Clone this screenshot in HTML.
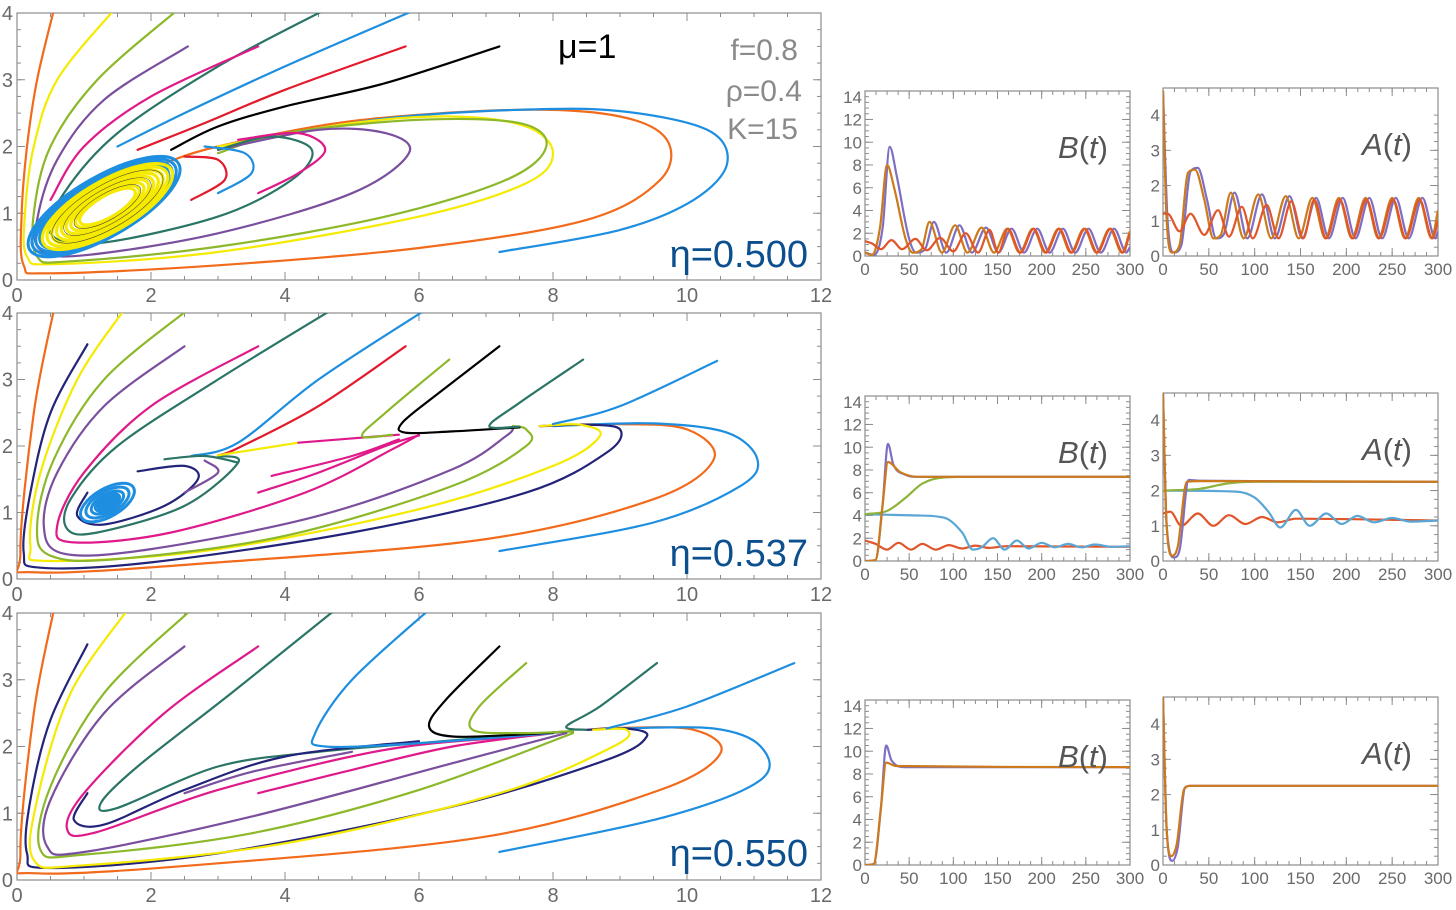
<!DOCTYPE html>
<html><head><meta charset="utf-8">
<style>
html,body{margin:0;padding:0;background:#fff;}
svg{display:block;font-family:"Liberation Sans",sans-serif;}
</style></head>
<body>
<svg id="fig" width="1456" height="910" viewBox="0 0 1456 910" xmlns="http://www.w3.org/2000/svg">
<g id="layer"></g>
<text x="558" y="58" font-size="34" fill="#000">μ=1</text>
<text x="798" y="60" font-size="30" fill="#8a8a8a" text-anchor="end">f=0.8</text>
<text x="802" y="101" font-size="30" fill="#8a8a8a" text-anchor="end">ρ=0.4</text>
<text x="798" y="139" font-size="30" fill="#8a8a8a" text-anchor="end">K=15</text>
<text x="808" y="267" font-size="38" fill="#0b4f8f" text-anchor="end">η=0.500</text>
<text x="808" y="566" font-size="38" fill="#0b4f8f" text-anchor="end">η=0.537</text>
<text x="808" y="866" font-size="38" fill="#0b4f8f" text-anchor="end">η=0.550</text>
</svg>
<script>
// ---------- data ----------
const phaseXTicks = [0,2,4,6,8,10,12];
const phaseYTicks = [0,1,2,3,4];
const bTicks = [0,2,4,6,8,10,12,14];
const aTicks = [0,1,2,3,4];
const tTicks = [0,50,100,150,200,250,300];

const C = {orange:'#f26a1b', blue:'#1e8fe0', yellow:'#f5ea00', olive:'#8cb82a', purple:'#7a4f9e', pink:'#e0198a', teal:'#2a7566', red:'#e3192c', black:'#000', navy:'#23237a'};

// Panel 1 (eta=0.500) trajectories [x,y]
const p1 = [
 ['orange',[[0.55,4.05],[0.3,3],[0.15,2],[0.07,1],[0.1,0.22],[0.5,0.1],[3,0.22],[6,0.48],[8.5,0.9],[9.6,1.5],[9.7,2.1],[9,2.45],[7.5,2.55],[5,2.38],[3,2.0],[2.2,1.75]]],
 ['blue',[[7.2,0.42],[9,0.75],[10.1,1.2],[10.6,1.75],[10.3,2.25],[9,2.53],[7.5,2.55],[5.5,2.42],[3.5,2.1]]],
 ['yellow',[[1.45,4.05],[0.6,3],[0.25,2],[0.12,1],[0.15,0.35],[0.6,0.24],[3,0.42],[6,0.95],[7.6,1.45],[8,1.9],[7.6,2.3],[6.5,2.45],[5,2.35],[3,2.0]]],
 ['olive',[[2.4,4.05],[1.2,3],[0.5,2],[0.25,1],[0.3,0.35],[0.8,0.28],[3,0.5],[5.5,0.95],[7.3,1.5],[7.9,2],[7.5,2.35],[6,2.4],[4,2.2],[3,1.9]]],
 ['purple',[[2.55,3.5],[1.3,2.7],[0.6,1.8],[0.3,0.9],[0.35,0.45],[1,0.37],[3,0.7],[5,1.3],[5.85,1.9],[5.5,2.2],[4.5,2.25],[3,1.95]]],
 ['teal',[[4.6,4.05],[3,3.2],[1.5,2.2],[0.7,1.3],[0.5,0.7],[1.2,0.55],[3,0.95],[4.1,1.5],[4.4,1.95],[3.8,2.15],[3,1.95]]],
 ['pink',[[3.6,3.5],[2,2.75],[1,2],[0.5,1.2]]],
 ['pink',[[3.6,1.3],[4.2,1.6],[4.6,1.95],[4.2,2.2],[3.3,2.1]]],
 ['blue',[[5.95,4.05],[4,3.2],[2.5,2.5],[1.5,2.0]]],
 ['red',[[5.8,3.5],[4,2.85],[2.8,2.35],[1.8,1.95]]],
 ['black',[[7.2,3.5],[5.5,2.95],[4,2.6],[3,2.3],[2.3,1.95]]],
 ['blue',[[3.0,1.3],[3.5,1.6],[3.4,1.9],[2.8,2.0]]],
 ['red',[[2.6,1.2],[3.1,1.5],[3.0,1.8],[2.5,1.85]]]
];
const cycleCenter = [1.3,1.1];
const cycleBlueScales = [1.0,0.95,0.9,0.85];
const cycleYellowScales = [0.82,0.76,0.7,0.64,0.58,0.52,0.46,0.4,0.35];

// Panel 2 (eta=0.537)
const p2 = [
 ['orange',[[0.55,4.05],[0.25,2.5],[0.05,0.4],[0.3,0.1],[3,0.25],[7,0.6],[9.5,1.2],[10.4,1.8],[10,2.25],[9,2.33],[7.8,2.3]]],
 ['blue',[[7.2,0.42],[9.5,0.85],[10.8,1.4],[11.05,1.8],[10.6,2.2],[9.5,2.34],[8,2.3]]],
 ['navy',[[1.05,3.53],[0.5,2.5],[0.2,1.3],[0.1,0.4],[0.35,0.17],[2,0.25],[5,0.7],[7.6,1.3],[8.8,1.9],[9,2.25],[8.5,2.32],[7.8,2.3]]],
 ['yellow',[[1.6,4.05],[0.9,3],[0.35,1.6],[0.2,0.5],[0.5,0.27],[3,0.45],[6,1.05],[8,1.7],[8.7,2.15],[8.4,2.32],[7.8,2.3]]],
 ['olive',[[2.55,4.05],[1.3,3],[0.55,1.8],[0.3,0.8],[0.5,0.35],[1.5,0.3],[4,0.65],[6.5,1.4],[7.6,2.0],[7.6,2.25],[7.4,2.3]]],
 ['purple',[[2.5,3.5],[1.3,2.6],[0.6,1.6],[0.4,0.8],[0.7,0.38],[2,0.45],[4.5,0.95],[6.5,1.65],[7.3,2.15],[7.4,2.28]]],
 ['pink',[[3.6,3.5],[2,2.6],[1,1.6],[0.6,0.8],[0.85,0.55],[2.3,0.7],[4.3,1.3],[5.6,1.95],[6,2.17]]],
 ['teal',[[4.7,4.05],[3,3],[1.5,2],[0.8,1.2],[0.75,0.75],[1.2,0.7],[2.5,1.1],[3.3,1.75],[3.0,1.85]]],
 ['blue',[[6.1,4.05],[4.5,3],[3.3,2.05],[2.6,1.85]]],
 ['red',[[5.8,3.5],[4.5,2.6],[3.3,1.97],[3.0,1.86]]],
 ['yellow',[[3.0,1.86],[4.2,2.05]]],
 ['pink',[[4.2,2.05],[5.7,2.17]]],
 ['black',[[7.2,3.5],[6.3,2.8],[5.75,2.35],[5.8,2.2],[6.5,2.22],[7.5,2.28]]],
 ['olive',[[6.45,3.3],[5.5,2.5],[5.15,2.15],[5.6,2.17]]],
 ['teal',[[8.45,3.3],[7.5,2.65],[7.05,2.3],[7.5,2.29]]],
 ['blue',[[10.45,3.28],[9,2.6],[8,2.33]]],
 ['pink',[[3.6,1.3],[4.5,1.6],[5.5,2.0],[6,2.16]]],
 ['pink',[[3.8,1.55],[5,1.85],[5.7,2.1]]],
 ['navy',[[1.05,1.3],[0.9,0.95],[1.3,0.82],[2.2,1.1],[2.7,1.5],[2.5,1.7],[1.8,1.62]]],
 ['purple',[[2.5,1.3],[3.0,1.6],[2.8,1.78]]],
 ['teal',[[3.3,1.75],[2.8,1.85],[2.2,1.8]]]
];
const spiral2Center = [1.35,1.15];
const spiral2Scales = [1.0,0.8,0.6,0.45];

// Panel 3 (eta=0.550)
const p3 = [
 ['orange',[[0.55,4.05],[0.25,2.5],[0.05,0.4],[0.3,0.1],[3,0.25],[7,0.65],[9.6,1.35],[10.5,1.9],[10.1,2.25],[9,2.28],[8.5,2.25]]],
 ['blue',[[7.2,0.42],[9.7,0.95],[11.1,1.5],[11.1,2.0],[10.4,2.27],[9,2.27]]],
 ['navy',[[1.05,3.53],[0.5,2.4],[0.2,1.2],[0.15,0.4],[0.5,0.18],[3,0.4],[6.5,1.1],[8.8,1.8],[9.4,2.15],[9.1,2.27],[8.5,2.25]]],
 ['yellow',[[1.65,4.05],[0.8,2.8],[0.3,1.2],[0.25,0.3],[1,0.22],[4,0.55],[7.2,1.3],[8.9,2.0],[9.1,2.25],[8.6,2.25]]],
 ['olive',[[2.6,4.05],[1.3,2.8],[0.5,1.4],[0.35,0.45],[1,0.38],[3.5,0.7],[6,1.35],[8.3,2.2]]],
 ['purple',[[2.5,3.5],[1.3,2.5],[0.5,1.2],[0.45,0.5],[1,0.42],[3.5,0.95],[6.5,1.75],[8.2,2.2]]],
 ['pink',[[3.6,3.5],[2.2,2.5],[1,1.3],[0.75,0.75],[1.2,0.72],[3,1.35],[5.5,1.95],[7.5,2.15]]],
 ['teal',[[4.75,4.05],[3.2,2.8],[1.8,1.7],[1.25,1.15],[1.5,1.08],[3,1.7],[4.5,1.92],[6,2.05],[7.8,2.2]]],
 ['navy',[[1.05,1.3],[0.85,0.9],[1.3,0.83],[2.5,1.35],[4,1.85],[6,2.08]]],
 ['pink',[[3.6,1.3],[5,1.65],[6.5,2.0],[8,2.2]]],
 ['purple',[[2.5,1.3],[3.5,1.62],[5,1.92]]],
 ['blue',[[6.15,4.05],[5,3],[4.45,2.2],[4.6,2.0],[6,2.05],[8,2.2]]],
 ['black',[[7.2,3.5],[6.4,2.7],[6.15,2.3],[6.5,2.15],[7.5,2.18],[8.3,2.23]]],
 ['olive',[[7.6,3.25],[6.9,2.6],[6.8,2.25],[7.5,2.2],[8.3,2.23]]],
 ['teal',[[9.55,3.25],[8.7,2.6],[8.2,2.3],[8.5,2.25]]],
 ['blue',[[11.6,3.25],[10,2.6],[8.8,2.27]]]
];

// Time series [t,value]
const TS = {
 purple:'#7f6fc4', orange:'#cc7a1c', red:'#e0562a', green:'#8db33a', lblue:'#5ba6d5'
};
const b1Purple=[[0,0.3],[10,0.1],[20,2.5],[28,9.6],[36,7],[50,1.5],[58,0.3],[68,0.6],[78,3],[92,0.3],[107,2.7],[121,0.3],[137,2.5],[151,0.3],[166,2.4],[180,0.3],[195,2.4],[209,0.3],[224,2.4],[238,0.3],[253,2.4],[267,0.3],[282,2.4],[296,0.3],[300,0.8]];
const b1Orange=[[0,0.3],[8,0.1],[17,2.5],[25,8],[33,6],[46,1.5],[54,0.3],[64,0.6],[73,3],[87,0.3],[102,2.7],[116,0.3],[132,2.5],[146,0.3],[161,2.4],[175,0.3],[190,2.4],[204,0.3],[219,2.4],[233,0.3],[248,2.4],[262,0.3],[277,2.4],[291,0.3],[300,2.2]];
const b1Red=[[0,1.3],[8,1.1],[18,0.6],[30,1.4],[42,0.6],[57,1.5],[70,0.5],[85,1.6],[100,0.4],[114,2.0],[128,0.3],[141,2.3],[151,0.3],[162,2.4],[176,0.3],[191,2.4],[205,0.3],[220,2.4],[234,0.3],[249,2.4],[263,0.3],[278,2.4],[292,0.3],[300,2.0]];
const a1Purple=[[0,4.7],[5,1],[12,0.1],[20,0.3],[30,2.4],[38,2.5],[48,1.6],[58,0.5],[66,0.6],[78,1.8],[92,0.5],[108,1.75],[122,0.5],[138,1.7],[152,0.5],[167,1.65],[181,0.5],[196,1.65],[210,0.5],[225,1.65],[239,0.5],[254,1.65],[268,0.5],[283,1.65],[297,0.5],[300,0.7]];
const a1Orange=[[0,4.7],[4,1],[10,0.1],[18,0.3],[27,2.35],[35,2.45],[45,1.6],[55,0.5],[63,0.6],[74,1.8],[88,0.5],[104,1.75],[118,0.5],[134,1.7],[148,0.5],[163,1.65],[177,0.5],[192,1.65],[206,0.5],[221,1.65],[235,0.5],[250,1.65],[264,0.5],[279,1.65],[293,0.5],[300,1.3]];
const a1Red=[[0,1.2],[5,1.2],[18,0.7],[30,1.2],[45,0.6],[60,1.3],[72,0.55],[86,1.4],[98,0.5],[113,1.45],[126,0.5],[140,1.55],[153,0.5],[165,1.6],[178,0.5],[193,1.6],[207,0.5],[222,1.6],[236,0.5],[251,1.6],[265,0.5],[280,1.6],[294,0.5],[300,1.0]];
const b2Purple=[[0,0],[12,0.1],[20,5],[26,10.3],[32,8.5],[45,7.6],[60,7.4],[300,7.4]];
const b2Orange=[[0,0],[12,0.1],[20,5],[26,8.7],[40,7.8],[60,7.4],[300,7.4]];
const b2Green=[[0,4.1],[25,4.4],[45,5.5],[65,6.8],[90,7.35],[120,7.4],[300,7.4]];
const b2Blue=[[0,4.1],[60,4.0],[90,3.8],[110,2.5],[122,1],[132,1.2],[145,2],[158,1],[172,1.8],[185,1.1],[200,1.6],[215,1.2],[230,1.5],[245,1.2],[260,1.45],[280,1.25],[300,1.3]];
const b2Red=[[0,1.8],[12,1.5],[25,1.0],[38,1.6],[52,1.0],[65,1.5],[80,1.0],[95,1.4],[110,1.1],[125,1.35],[140,1.15],[160,1.3],[300,1.25]];
const a2Purple=[[0,4.8],[4,1.0],[12,0.1],[18,0.3],[28,2.3],[40,2.28],[300,2.25]];
const a2Orange=[[0,4.8],[4,1.0],[10,0.15],[16,0.4],[26,2.25],[40,2.27],[300,2.25]];
const a2Green=[[0,2.0],[40,2.05],[70,2.2],[100,2.25],[300,2.25]];
const a2Blue=[[0,2.0],[80,1.97],[100,1.8],[115,1.4],[128,0.95],[145,1.45],[160,1.0],[178,1.35],[195,1.05],[212,1.28],[230,1.1],[250,1.22],[270,1.12],[300,1.15]];
const a2Red=[[0,1.35],[8,1.4],[20,1.0],[38,1.35],[55,1.0],[72,1.3],[90,1.05],[108,1.25],[125,1.1],[145,1.2],[300,1.15]];
const b3Purple=[[0,0],[10,0.1],[18,5],[24,10.5],[30,9.2],[45,8.6],[300,8.6]];
const b3Orange=[[0,0],[10,0.1],[18,5],[24,9],[35,8.7],[300,8.6]];
const a3Purple=[[0,4.8],[4,1],[10,0.12],[16,0.5],[24,2.2],[30,2.25],[300,2.25]];
const a3Orange=[[0,4.8],[4,1],[9,0.25],[15,0.6],[23,2.15],[30,2.25],[300,2.25]];

// ---------- drawing ----------
const NS='http://www.w3.org/2000/svg';
const layer=document.getElementById('layer');
function el(tag,attrs,parent){const e=document.createElementNS(NS,tag);for(const k in attrs)e.setAttribute(k,attrs[k]);(parent||layer).appendChild(e);return e;}
function smooth(pts){
  if(pts.length<2)return '';
  let d='M'+pts[0][0].toFixed(1)+','+pts[0][1].toFixed(1);
  for(let i=0;i<pts.length-1;i++){
    const p0=pts[i-1]||pts[i],p1=pts[i],p2=pts[i+1],p3=pts[i+2]||p2;
    const c1=[p1[0]+(p2[0]-p0[0])/6,p1[1]+(p2[1]-p0[1])/6];
    const c2=[p2[0]-(p3[0]-p1[0])/6,p2[1]-(p3[1]-p1[1])/6];
    d+=' C'+c1[0].toFixed(1)+','+c1[1].toFixed(1)+' '+c2[0].toFixed(1)+','+c2[1].toFixed(1)+' '+p2[0].toFixed(1)+','+p2[1].toFixed(1);
  }
  return d;
}
// monotone cubic (Fritsch-Carlson) for x-monotone series
function monotone(pts){
  const n=pts.length;if(n<2)return '';
  const dx=[],m=[],t=new Array(n);
  for(let i=0;i<n-1;i++){dx[i]=pts[i+1][0]-pts[i][0];m[i]=(pts[i+1][1]-pts[i][1])/dx[i];}
  t[0]=m[0];t[n-1]=m[n-2];
  for(let i=1;i<n-1;i++){t[i]=(m[i-1]*m[i]<=0)?0:(m[i-1]+m[i])/2;}
  for(let i=0;i<n-1;i++){
    if(m[i]===0){t[i]=0;t[i+1]=0;continue;}
    const a=t[i]/m[i],b=t[i+1]/m[i],s=a*a+b*b;
    if(s>9){const k=3/Math.sqrt(s);t[i]=k*a*m[i];t[i+1]=k*b*m[i];}
  }
  let d='M'+pts[0][0].toFixed(1)+','+pts[0][1].toFixed(1);
  for(let i=0;i<n-1;i++){
    const h=dx[i]/3;
    d+=' C'+(pts[i][0]+h).toFixed(1)+','+(pts[i][1]+t[i]*h).toFixed(1)+' '+(pts[i+1][0]-h).toFixed(1)+','+(pts[i+1][1]-t[i+1]*h).toFixed(1)+' '+pts[i+1][0].toFixed(1)+','+pts[i+1][1].toFixed(1);
  }
  return d;
}
function frame(name,x0,x1,yTop,yBot,xs,ys,xTicks,yTicks,fs,labelGap){
  const g=el('g',{});
  
  
  const clip=el('clipPath',{id:name+'-clip'},g);
  el('rect',{x:x0,y:yTop,width:x1-x0,height:yBot-yTop},clip);
  const r=el('rect',{x:x0,y:yTop,width:x1-x0,height:yBot-yTop,fill:'none',stroke:'#8c8c8c','stroke-width':1.2},g);
  
  
  const xt=xTicks, yt=yTicks;
  for(let i=0;i<xt.length-1;i++){
    for(let k=0;k<=4;k++){
      const v=xt[i]+(xt[i+1]-xt[i])*k/4;const X=xs(v);const L=k===0?8:4;
      el('line',{x1:X,y1:yBot,x2:X,y2:yBot-L,stroke:'#8c8c8c','stroke-width':1},g);
      el('line',{x1:X,y1:yTop,x2:X,y2:yTop+L,stroke:'#8c8c8c','stroke-width':1},g);
    }
  }
  for(let i=0;i<yt.length-1;i++){
    for(let k=0;k<=4;k++){
      const v=yt[i]+(yt[i+1]-yt[i])*k/4;const Y=ys(v);if(Y<yTop)continue;const L=k===0?8:4;
      el('line',{x1:x0,y1:Y,x2:x0+L,y2:Y,stroke:'#8c8c8c','stroke-width':1},g);
      el('line',{x1:x1,y1:Y,x2:x1-L,y2:Y,stroke:'#8c8c8c','stroke-width':1},g);
    }
  }
  xt.forEach(v=>{const t=el('text',{x:xs(v),y:yBot+fs+2,'font-size':fs,fill:'#6a6a6a','text-anchor':'middle'},g);t.textContent=v;
    
    });
  yt.forEach(v=>{const t=el('text',{x:x0-labelGap,y:ys(v)+fs*0.36,'font-size':fs,fill:'#6a6a6a','text-anchor':'end'},g);t.textContent=v;
    
    });
  const plot=el('g',{'clip-path':'url(#'+name+'-clip)'},g);
  return plot;
}
function phasePanel(name,yTop,yBot,trajs){
  const x0=17,x1=821;
  const xs=v=>x0+(x1-x0)*v/12, ys=v=>yBot-(yBot-yTop)*v/4;
  const plot=frame(name,x0,x1,yTop,yBot,xs,ys,phaseXTicks,phaseYTicks,20,4);
  trajs.forEach(tr=>{
    const p=el('path',{d:smooth(tr[1].map(q=>[xs(q[0]),ys(q[1])])),fill:'none',stroke:C[tr[0]],'stroke-width':2.2,'stroke-linecap':'round'},plot);
    
    
  });
  return {plot,xs,ys};
}
function ellipses(P,center,scales,color,rx,ry,sw){
  scales.forEach(s=>{
    const e=el('ellipse',{cx:P.xs(center[0]),cy:P.ys(center[1]),rx:rx*s,ry:ry*s,fill:'none',stroke:color,'stroke-width':sw,transform:'rotate(-30 '+P.xs(center[0])+' '+P.ys(center[1])+')'},P.plot);
    
    
  });
}
const P1=phasePanel('phase-plot-eta-0500',13,280,p1);
ellipses(P1,cycleCenter,cycleBlueScales,C.blue,86,30,3);
ellipses(P1,[1.35,1.1],cycleYellowScales,C.yellow,90,31,3.2);
ellipses(P1,[1.35,1.1],[0.7,0.55,0.42],'#333',90,31,0.5);
const P2=phasePanel('phase-plot-eta-0537',313,579,p2);
ellipses(P2,spiral2Center,spiral2Scales,C.blue,30,14,3);
el('ellipse',{cx:P2.xs(1.35),cy:P2.ys(1.15),rx:12,ry:7,fill:C.blue,transform:'rotate(-30 '+P2.xs(1.35)+' '+P2.ys(1.15)+')'},P2.plot);
const P3=phasePanel('phase-plot-eta-0550',613,880,p3);

function tsPanel(name,x0,x1,yTop,yBot,yMax,yTicks,series,label,labelX){
  const xs=v=>x0+(x1-x0)*v/300, ys=v=>yBot-(yBot-yTop)*v/yMax;
  const plot=frame(name,x0,x1,yTop,yBot,xs,ys,tTicks,yTicks,17,3);
  series.forEach(s=>{
    const p=el('path',{d:monotone(s[1].map(q=>[xs(q[0]),ys(q[1])])),fill:'none',stroke:TS[s[0]],'stroke-width':2.2},plot);
    
    
  });
  const t=el('text',{x:labelX,y:yTop+67,'font-size':31,fill:'#555','text-anchor':'end'});
  t.innerHTML='<tspan font-style="italic">'+label+'</tspan>(<tspan font-style="italic">t</tspan>)';
  
  
}
const rows=[[256,[['purple',b1Purple],['orange',b1Orange],['red',b1Red]],[['purple',a1Purple],['orange',a1Orange],['red',a1Red]]],
 [561,[['red',b2Red],['lblue',b2Blue],['green',b2Green],['purple',b2Purple],['orange',b2Orange]],[['red',a2Red],['lblue',a2Blue],['green',a2Green],['purple',a2Purple],['orange',a2Orange]]],
 [865,[['purple',b3Purple],['orange',b3Orange]],[['purple',a3Purple],['orange',a3Orange]]]];
rows.forEach((r,i)=>{
  const yb=r[0];
  tsPanel('b-series-'+(i+1),865,1130,yb-165,yb,14.5,bTicks,r[1],'B',1108);
  tsPanel('a-series-'+(i+1),1163,1438,yb-168,yb,4.77,aTicks,r[2],'A',1412);
});
</script>
</body></html>
